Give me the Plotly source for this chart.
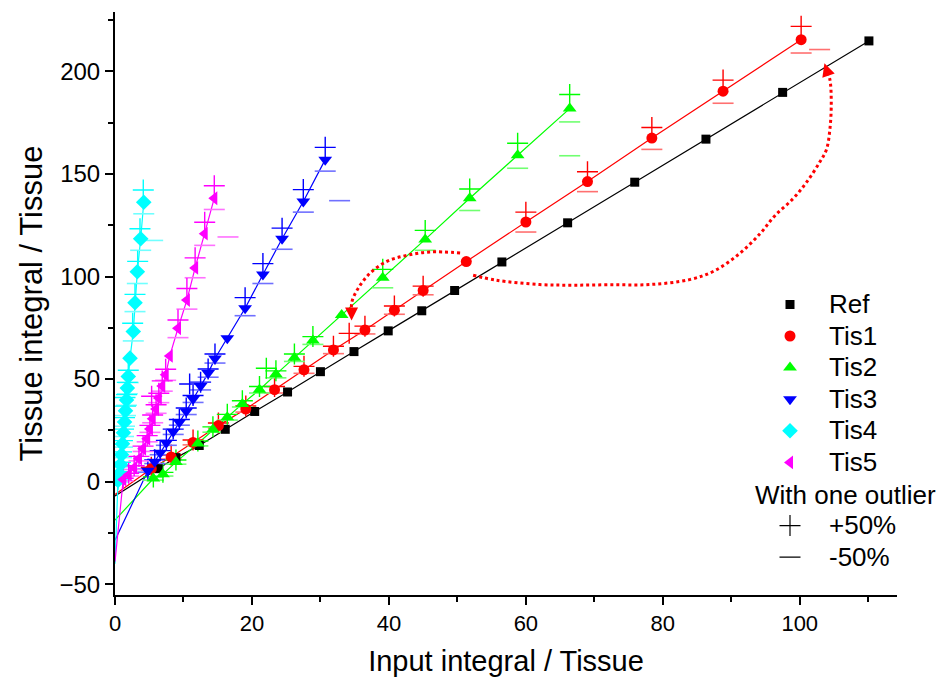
import plotly.graph_objects as go

# ---------------- data ----------------
ref_x = [6.3, 8.9, 12.3, 16.1, 20.4, 25.2, 30.0, 34.9, 39.9, 44.8, 49.6, 56.5, 66.1, 75.9, 86.3, 97.5, 110.1]
ref_y = [6.3, 11.7, 17.6, 25.5, 34.2, 43.7, 53.6, 63.4, 73.5, 83.3, 93.2, 107.1, 126.2, 146.0, 167.0, 189.8, 214.9]

tis1_x = [5.3, 8.2, 11.4, 15.1, 19.1, 23.3, 27.6, 31.9, 36.5, 40.8, 45.0, 51.3, 60.0, 69.0, 78.4, 88.8, 100.2]
tis1_y = [6.3, 12.0, 19.1, 27.3, 35.4, 44.8, 54.5, 64.2, 73.9, 83.6, 93.2, 107.3, 126.6, 146.3, 167.5, 190.4, 215.5]
tis1_px = [5.3, 8.2, 11.4, 15.1, 19.1, 23.3, 27.6, 31.9, 36.5, 40.8, 45.0, 34.2, 60.0, 69.0, 78.4, 88.8, 100.2]
tis1_py = [7.0, 13.0, 20.3, 28.6, 36.9, 46.4, 56.2, 66.0, 75.8, 85.6, 95.3, 72.3, 131.4, 151.1, 172.7, 195.8, 222.0]
tis1_mx = [5.3, 8.2, 11.4, 15.1, 19.1, 23.3, 27.6, 31.9, 36.5, 40.8, 45.0, 102.9, 60.0, 69.0, 78.4, 88.8, 100.2]
tis1_my = [5.6, 11.0, 17.9, 26.0, 33.9, 43.2, 52.8, 62.4, 72.0, 81.6, 91.1, 210.7, 121.7, 141.4, 162.0, 184.5, 209.0]

tis2_x = [5.6, 7.0, 8.9, 12.1, 14.3, 16.4, 18.6, 21.1, 23.5, 26.2, 28.9, 33.1, 39.1, 45.3, 51.8, 58.8, 66.4]
tis2_y = [1.5, 3.6, 9.5, 18.6, 25.4, 31.4, 37.9, 44.8, 52.3, 60.4, 68.8, 81.3, 99.4, 118.1, 138.2, 159.2, 181.9]
tis2_px = [5.6, 7.0, 8.9, 12.1, 14.3, 16.4, 18.6, 21.1, 23.5, 26.2, 28.9, 22.1, 39.1, 45.3, 51.8, 58.8, 66.4]
tis2_py = [2.3, 4.5, 10.5, 19.8, 26.7, 32.8, 39.4, 46.4, 54.0, 62.2, 70.7, 55.3, 103.5, 122.5, 142.7, 165.0, 188.8]
tis2_mx = [5.6, 7.0, 8.9, 12.1, 14.3, 16.4, 18.6, 21.1, 23.5, 26.2, 28.9, 66.4, 39.1, 45.3, 51.8, 58.8, 66.4]
tis2_my = [0.7, 2.7, 8.5, 17.4, 24.1, 30.0, 36.4, 43.2, 50.6, 58.6, 66.9, 158.9, 94.5, 112.8, 132.2, 152.8, 175.4]

tis3_x = [4.8, 5.8, 6.6, 7.5, 8.5, 9.4, 10.4, 11.4, 12.5, 13.6, 14.6, 16.4, 19.0, 21.6, 24.4, 27.5, 30.7]
tis3_y = [5.3, 9.7, 14.1, 18.9, 24.3, 28.9, 34.3, 40.3, 46.6, 52.9, 60.0, 69.9, 84.5, 101.0, 118.4, 136.6, 157.0]
tis3_px = [4.8, 5.8, 6.6, 7.5, 8.5, 9.4, 10.4, 11.4, 12.5, 13.6, 14.6, 10.9, 19.0, 21.6, 24.4, 27.5, 30.7]
tis3_py = [6.0, 10.6, 15.1, 20.1, 25.6, 30.3, 35.9, 42.0, 48.5, 54.9, 62.2, 47.6, 89.7, 106.3, 123.6, 142.4, 163.0]
tis3_mx = [4.8, 5.8, 6.6, 7.5, 8.5, 9.4, 10.4, 11.4, 12.5, 13.6, 14.6, 32.8, 19.0, 21.6, 24.4, 27.5, 30.7]
tis3_my = [4.6, 8.8, 13.1, 17.7, 23.0, 27.5, 32.7, 38.6, 44.7, 50.9, 57.8, 137.0, 80.9, 96.6, 113.3, 131.4, 151.4]

tis4_x = [0.44, 0.66, 0.80, 0.95, 1.09, 1.24, 1.39, 1.53, 1.68, 1.80, 1.94, 2.19, 2.67, 2.92, 3.26, 3.75, 4.20]
tis4_y = [0.5, 3.9, 8.3, 13.1, 18.4, 23.8, 29.1, 34.5, 39.8, 45.6, 51.3, 60.2, 73.2, 87.2, 102.3, 118.4, 136.2]
tis4_px = [0.44, 0.66, 0.80, 0.95, 1.09, 1.24, 1.39, 1.53, 1.68, 1.80, 1.94, 1.46, 2.58, 2.92, 3.31, 3.65, 4.13]
tis4_py = [1.2, 4.8, 9.4, 14.5, 20.0, 25.6, 31.2, 36.8, 42.4, 48.4, 54.3, 41.0, 77.2, 91.3, 107.4, 123.3, 142.2]
tis4_mx = [0.44, 0.66, 0.80, 0.95, 1.09, 1.24, 1.39, 1.53, 1.68, 1.80, 1.94, 5.50, 2.67, 2.92, 3.26, 3.75, 4.20]
tis4_my = [-0.2, 3.0, 7.2, 11.7, 16.8, 22.0, 27.0, 32.2, 37.2, 42.8, 48.3, 117.6, 68.6, 82.9, 96.6, 112.8, 130.6]

tis5_x = [1.2, 2.0, 2.8, 3.5, 4.1, 4.7, 5.1, 5.5, 6.0, 6.4, 6.9, 7.4, 8.0, 9.2, 10.5, 11.7, 13.1, 14.5]
tis5_y = [1.0, 3.4, 6.8, 11.2, 16.0, 20.9, 25.7, 30.6, 35.4, 40.8, 46.6, 52.1, 61.3, 74.8, 88.5, 104.2, 120.9, 138.2]
tis5_px = [1.2, 2.0, 2.8, 3.5, 4.1, 4.7, 5.1, 5.5, 6.0, 6.4, 6.9, 7.4, 5.35, 9.2, 10.5, 11.7, 13.1, 14.5]
tis5_py = [1.6, 4.1, 7.7, 12.3, 17.3, 22.4, 27.4, 32.5, 37.5, 43.1, 49.1, 54.8, 41.6, 78.8, 94.2, 109.1, 126.5, 144.3]
tis5_mx = [1.2, 2.0, 2.8, 3.5, 4.1, 4.7, 5.1, 5.5, 6.0, 6.4, 6.9, 7.4, 16.5, 9.2, 10.5, 11.7, 13.1, 14.5]
tis5_my = [0.4, 2.7, 5.9, 10.1, 14.7, 19.4, 24.0, 28.7, 33.3, 38.5, 44.1, 49.4, 119.3, 70.2, 84.1, 99.4, 115.2, 132.7]

# fitted-line starting values at x = 0
intercepts = [-7.0, -6.3, -18.8, -28.6, -40.0, -39.0]

names = ["Ref", "Tis1", "Tis2", "Tis3", "Tis4", "Tis5"]
colors = ["#000000", "#FF0000", "#00FF00", "#0000FF", "#00FFFF", "#FF00FF"]
minus_colors = ["#000000", "#FF7070", "#70FF70", "#7070FF", "#70FFFF", "#FF70FF"]
symbols = ["square", "circle", "triangle-up", "triangle-down", "diamond", "triangle-left"]
sizes = [9, 11, 12, 12, 12, 12]

series_x = [ref_x, tis1_x, tis2_x, tis3_x, tis4_x, tis5_x]
series_y = [ref_y, tis1_y, tis2_y, tis3_y, tis4_y, tis5_y]
plus_x = [None, tis1_px, tis2_px, tis3_px, tis4_px, tis5_px]
plus_y = [None, tis1_py, tis2_py, tis3_py, tis4_py, tis5_py]
minus_x = [None, tis1_mx, tis2_mx, tis3_mx, tis4_mx, tis5_mx]
minus_y = [None, tis1_my, tis2_my, tis3_my, tis4_my, tis5_my]

# dotted curved arrows (annotation of the outlier shift)
arrow1_x = [50.4, 46.0, 42.6, 39.7, 37.2, 35.5, 34.6, 34.55]
arrow1_y = [111.5, 112.0, 110.3, 107.4, 101.5, 94.2, 87.7, 82.0]
arrow2_x = [52.3, 55.7, 62.0, 66.9, 72.3, 78.1, 83.9, 87.6, 91.2, 94.2, 96.4, 99.0, 101.0, 102.9, 103.9, 104.4, 104.6, 104.4, 104.0]
arrow2_y = [100.6, 98.2, 96.1, 95.8, 96.0, 96.1, 98.5, 102.9, 111.2, 120.9, 129.8, 137.9, 146.0, 155.7, 162.0, 171.8, 184.8, 196.1, 200.0]

FONT = "Liberation Sans, Arial, sans-serif"
LEG_TXT = 26


def big(t):
    return "<span style='font-size:%dpx'>%s</span>" % (LEG_TXT, t)


fig = go.Figure()

# lines (from fitted start at x=0 through the points)
for i in range(6):
    fig.add_trace(go.Scatter(
        x=[0] + series_x[i], y=[intercepts[i]] + series_y[i], mode="lines",
        line=dict(color=colors[i], width=1.2), showlegend=False, hoverinfo="skip"))

# +/- markers
for i in range(1, 6):
    fig.add_trace(go.Scatter(
        x=minus_x[i], y=minus_y[i], mode="markers", showlegend=False,
        marker=dict(symbol="line-ew-open", size=15, color=minus_colors[i],
                    line=dict(color=minus_colors[i], width=1.6))))
    fig.add_trace(go.Scatter(
        x=plus_x[i], y=plus_y[i], mode="markers", showlegend=False,
        marker=dict(symbol="cross-thin-open", size=15, color=colors[i],
                    line=dict(color=colors[i], width=1.4))))

# main markers
for i in range(6):
    fig.add_trace(go.Scatter(
        x=series_x[i], y=series_y[i], mode="markers", name=big(names[i]),
        marker=dict(symbol=symbols[i], size=sizes[i], color=colors[i], line=dict(width=0))))

# legend spacer row and +/- legend items
fig.add_trace(go.Scatter(x=[None], y=[None], mode="markers", name=" ",
                         marker=dict(size=1, color="rgba(0,0,0,0)")))
fig.add_trace(go.Scatter(x=[None], y=[None], mode="markers", name=big("+50%"),
                         marker=dict(symbol="cross-thin-open", size=15, color="black",
                                     line=dict(color="black", width=1.2))))
fig.add_trace(go.Scatter(x=[None], y=[None], mode="markers", name=big("-50%"),
                         marker=dict(symbol="line-ew-open", size=15, color="black",
                                     line=dict(color="black", width=1.2))))

# dotted arrows
for ax_, ay_ in [(arrow1_x, arrow1_y), (arrow2_x, arrow2_y)]:
    fig.add_trace(go.Scatter(x=ax_, y=ay_, mode="lines", showlegend=False, hoverinfo="skip",
                             line=dict(color="#FF0000", width=3, dash="dot", shape="spline",
                                       smoothing=1.0)))

W, H = 944, 684
ml, mr, mt, mb = 115, 47, 12, 86
pw, ph = W - ml - mr, H - mt - mb

annotations = [
    dict(x=arrow1_x[-1], y=arrow1_y[-1] - 3.5, ax=arrow1_x[-1], ay=arrow1_y[-1],
         xref="x", yref="y", axref="x", ayref="y", showarrow=True, arrowhead=2,
         arrowsize=1.3, arrowwidth=2, arrowcolor="#FF0000", text=""),
    dict(x=arrow2_x[-1] - 0.4, y=arrow2_y[-1] + 4, ax=arrow2_x[-1], ay=arrow2_y[-1],
         xref="x", yref="y", axref="x", ayref="y", showarrow=True, arrowhead=2,
         arrowsize=1.3, arrowwidth=2, arrowcolor="#FF0000", text=""),
    dict(text="With one outlier", x=(753 - ml) / pw, y=1 - (497 - mt) / ph,
         xref="paper", yref="paper", showarrow=False,
         font=dict(family=FONT, size=LEG_TXT, color="black"),
         xanchor="left", yanchor="middle"),
]

fig.update_layout(
    width=W, height=H, margin=dict(l=ml, r=mr, t=mt, b=mb),
    paper_bgcolor="white", plot_bgcolor="white",
    font=dict(family=FONT, color="black"),
    showlegend=True,
    legend=dict(x=(751 - ml) / pw, y=1 - (285 - mt) / ph, xanchor="left", yanchor="top",
                font=dict(family=FONT, size=22), bgcolor="rgba(0,0,0,0)",
                itemwidth=68, itemclick=False, tracegroupgap=0),
    annotations=annotations,
    xaxis=dict(range=[0, 114.2], tick0=0, dtick=20, showline=True, linecolor="black", linewidth=2,
               ticks="outside", ticklen=8, tickwidth=2, tickcolor="black",
               minor=dict(dtick=10, ticks="outside", ticklen=5, tickwidth=2, tickcolor="black"),
               showgrid=False, zeroline=False, tickfont=dict(size=22),
               title=dict(text="Input integral / Tissue", font=dict(size=29), standoff=15)),
    yaxis=dict(range=[-55.3, 229], tick0=0, dtick=50, showline=True, linecolor="black", linewidth=2,
               ticks="outside", ticklen=8, tickwidth=2, tickcolor="black",
               minor=dict(dtick=25, ticks="outside", ticklen=5, tickwidth=2, tickcolor="black"),
               showgrid=False, zeroline=False, tickfont=dict(size=24),
               title=dict(text="Tissue integral / Tissue", font=dict(size=31), standoff=8)),
)

fig.write_html("out.html")
